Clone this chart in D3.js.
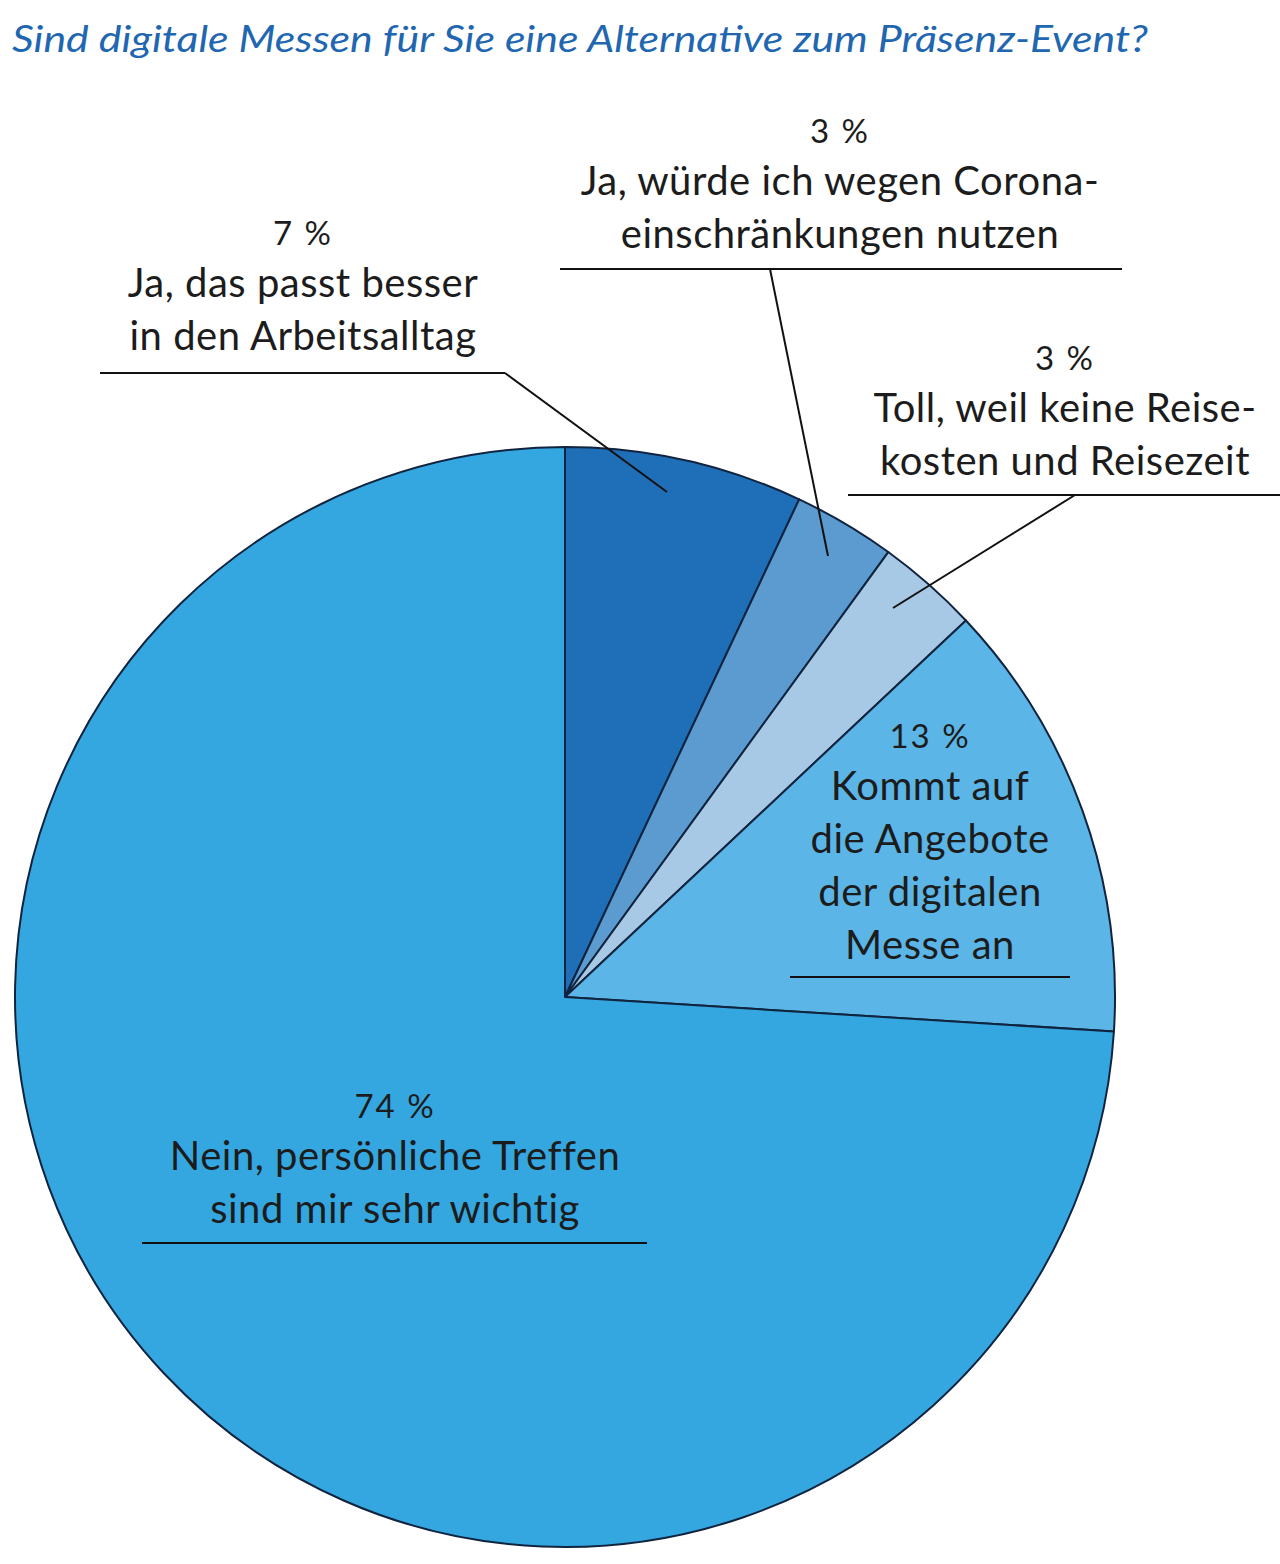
<!DOCTYPE html>
<html>
<head>
<meta charset="utf-8">
<script src="https://cdn.jsdelivr.net/npm/d3@7"></script>
<style>
  body { margin: 0; background: #fff; }
  svg { display: block; }
</style>
</head>
<body>
<svg id="chart" width="1280" height="1564"></svg>
<script>
/* --- Data --- */
var title = "Sind digitale Messen für Sie eine Alternative zum Präsenz-Event?";
var shares = [7, 3, 3, 13, 74];
var pct_labels = ["7 %", "3 %", "3 %", "13 %", "74 %"];
var answer_lines = [
    ["Ja, das passt besser", "in den Arbeitsalltag"],
    ["Ja, würde ich wegen Corona-", "einschränkungen nutzen"],
    ["Toll, weil keine Reise-", "kosten und Reisezeit"],
    ["Kommt auf", "die Angebote", "der digitalen", "Messe an"],
    ["Nein, persönliche Treffen", "sind mir sehr wichtig"]
];
var slice_colors = ["#1f6fb8", "#5c9bd0", "#a7c9e6", "#5bb5e6", "#35a7e0"];

/* --- Layout --- */
var cx = 565, cy = 997, radius = 550;
// label block: center x, baseline of the % line, underline extent, leader end
var label_layout = [
    {x: 303, y: 245, ux: [100, 505], uy: 373, leader: [[505, 373], [667, 492]]},
    {x: 840, y: 143, ux: [560, 1122], uy: 269, leader: [[770, 269], [828, 556]]},
    {x: 1065, y: 370, ux: [848, 1280], uy: 495, leader: [[1075, 495], [893, 608]]},
    {x: 930, y: 748, ux: [790, 1070], uy: 977, leader: null},
    {x: 395, y: 1118, ux: [142, 647], uy: 1243, leader: null}
];

var svg = d3.select("#chart");

svg.append("text")
    .attr("x", 12).attr("y", 52)
    .attr("font-family", "Lato, 'Open Sans', sans-serif")
    .attr("font-style", "italic")
    .attr("font-size", 37)
    .attr("fill", "#2166b0")
    .attr("textLength", 1136)
    .attr("lengthAdjust", "spacingAndGlyphs")
    .text(title);

var pie = d3.pie().sort(null).value(d => d);
var arc = d3.arc().innerRadius(0).outerRadius(radius);

var g = svg.append("g").attr("transform", "translate(" + cx + "," + cy + ")");
g.selectAll("path")
    .data(pie(shares))
    .join("path")
    .attr("d", arc)
    .attr("fill", (d, i) => slice_colors[i])
    .attr("stroke", "#10243f")
    .attr("stroke-width", 2)
    .attr("stroke-linejoin", "round");

/* --- Labels --- */
var labels = svg.append("g")
    .attr("font-family", "Lato, 'Open Sans', sans-serif")
    .attr("fill", "#1c1c1c")
    .attr("text-anchor", "middle");

label_layout.forEach(function(l, i){
    labels.append("text")
        .attr("x", l.x).attr("y", l.y)
        .attr("font-size", 33)
        .attr("letter-spacing", 2)
        .text(pct_labels[i]);
    answer_lines[i].forEach(function(line, j){
        labels.append("text")
            .attr("x", l.x).attr("y", l.y + 52 + j * 53)
            .attr("font-size", 40)
            .attr("letter-spacing", 0.5)
            .text(line);
    });
    svg.append("line")
        .attr("x1", l.ux[0]).attr("x2", l.ux[1])
        .attr("y1", l.uy).attr("y2", l.uy)
        .attr("stroke", "#111").attr("stroke-width", 2);
    if(l.leader){
        svg.append("line")
            .attr("x1", l.leader[0][0]).attr("y1", l.leader[0][1])
            .attr("x2", l.leader[1][0]).attr("y2", l.leader[1][1])
            .attr("stroke", "#111").attr("stroke-width", 2);
    }
});
</script>
</body>
</html>
